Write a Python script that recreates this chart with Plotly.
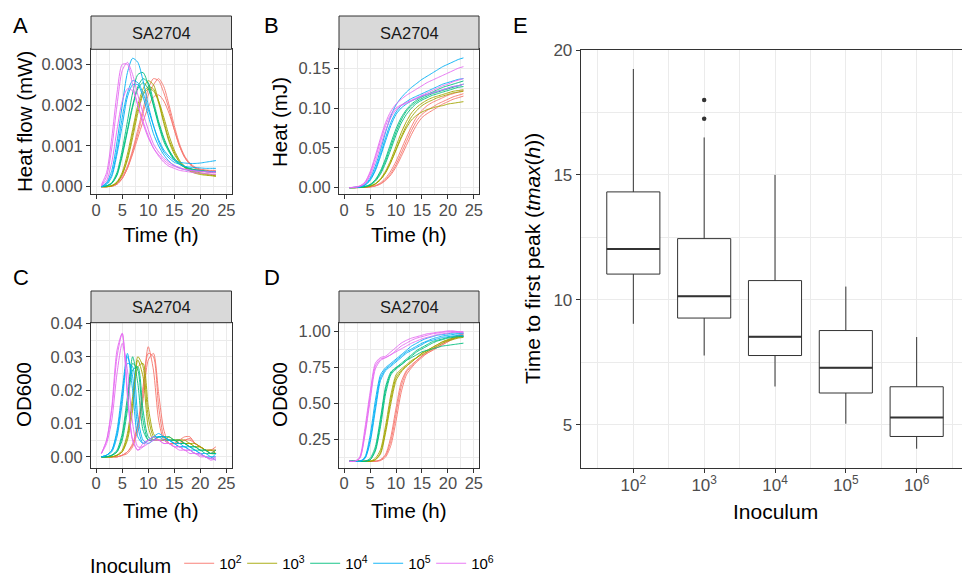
import plotly.graph_objects as go

W, H = 962, 576
FONT = "Liberation Sans, Arial, Helvetica, sans-serif"

GROUPS = ["10<sup>2</sup>", "10<sup>3</sup>", "10<sup>4</sup>", "10<sup>5</sup>", "10<sup>6</sup>"]
COLORS = ["#F8766D", "#A3A500", "#00BF7D", "#00B0F6", "#E76BF3"]
STRAIN = "SA2704"

time_h = list(range(1, 24))

# A - heat flow, in units of 0.001 mW (three replicates per inoculum)
heatflow_1e2 = [
    [0, 0, 0.02, 0.08, 0.25, 0.5, 0.9, 1.4, 1.9, 2.4, 2.65, 2.6, 2.3, 1.9, 1.4, 1.0, 0.72, 0.55, 0.46, 0.42, 0.4, 0.39, 0.38],
    [0, 0, 0.01, 0.06, 0.2, 0.45, 0.85, 1.3, 1.8, 2.25, 2.5, 2.65, 2.45, 2.0, 1.5, 1.05, 0.75, 0.58, 0.48, 0.43, 0.41, 0.4, 0.4],
    [0, 0, 0.01, 0.06, 0.2, 0.45, 0.8, 1.2, 1.6, 1.95, 2.2, 2.25, 2.1, 1.8, 1.4, 1.0, 0.72, 0.55, 0.45, 0.4, 0.37, 0.35, 0.34],
]
heatflow_1e3 = [
    [0, 0, 0.03, 0.12, 0.35, 0.8, 1.4, 2.0, 2.4, 2.6, 2.5, 2.1, 1.6, 1.15, 0.85, 0.62, 0.48, 0.4, 0.35, 0.32, 0.3, 0.28, 0.27],
    [0, 0, 0.02, 0.1, 0.3, 0.7, 1.3, 1.9, 2.3, 2.45, 2.4, 2.05, 1.55, 1.1, 0.8, 0.6, 0.46, 0.38, 0.33, 0.3, 0.28, 0.27, 0.25],
    [0, 0, 0.02, 0.1, 0.3, 0.65, 1.2, 1.8, 2.25, 2.4, 2.35, 2.1, 1.7, 1.25, 0.9, 0.65, 0.5, 0.42, 0.37, 0.34, 0.32, 0.3, 0.29],
]
heatflow_1e4 = [
    [0, 0.02, 0.1, 0.35, 0.9, 1.6, 2.3, 2.75, 2.8, 2.5, 2.0, 1.5, 1.1, 0.85, 0.65, 0.55, 0.48, 0.44, 0.41, 0.39, 0.38, 0.37, 0.36],
    [0, 0.02, 0.08, 0.3, 0.8, 1.4, 2.0, 2.45, 2.65, 2.55, 2.1, 1.6, 1.2, 0.9, 0.7, 0.58, 0.5, 0.45, 0.42, 0.4, 0.38, 0.37, 0.36],
    [0, 0.02, 0.08, 0.28, 0.75, 1.35, 1.95, 2.4, 2.55, 2.4, 2.0, 1.55, 1.15, 0.88, 0.68, 0.56, 0.48, 0.43, 0.4, 0.38, 0.37, 0.36, 0.35],
]
heatflow_1e5 = [
    [0, 0.1, 0.4, 1.1, 2.0, 2.8, 3.15, 3.05, 2.6, 2.0, 1.5, 1.1, 0.85, 0.7, 0.6, 0.55, 0.5, 0.48, 0.47, 0.46, 0.45, 0.45, 0.45],
    [0, 0.08, 0.3, 0.9, 1.7, 2.3, 2.6, 2.55, 2.3, 1.9, 1.5, 1.15, 0.9, 0.75, 0.65, 0.6, 0.58, 0.57, 0.57, 0.58, 0.6, 0.62, 0.64],
    [0, 0.05, 0.25, 0.8, 1.5, 2.2, 2.5, 2.5, 2.2, 1.75, 1.3, 1.0, 0.78, 0.62, 0.52, 0.46, 0.42, 0.4, 0.39, 0.38, 0.37, 0.37, 0.37],
]
heatflow_1e6 = [
    [0.05, 0.35, 1.2, 2.3, 3.0, 3.0, 2.5, 2.0, 1.55, 1.2, 0.95, 0.78, 0.65, 0.55, 0.5, 0.45, 0.42, 0.4, 0.38, 0.37, 0.36, 0.35, 0.35],
    [0.02, 0.25, 0.95, 2.0, 2.85, 3.05, 2.75, 2.25, 1.8, 1.4, 1.05, 0.85, 0.7, 0.6, 0.52, 0.47, 0.43, 0.41, 0.39, 0.38, 0.37, 0.36, 0.36],
    [0.02, 0.15, 0.6, 1.4, 2.1, 2.4, 2.35, 2.0, 1.6, 1.25, 0.95, 0.75, 0.6, 0.5, 0.45, 0.4, 0.38, 0.36, 0.34, 0.33, 0.32, 0.31, 0.3],
]

# B - cumulative heat (mJ)
heat_1e2 = [
    [0, 0, 0.0001, 0.0004, 0.001, 0.0025, 0.006, 0.012, 0.021, 0.033, 0.048, 0.063, 0.077, 0.089, 0.097, 0.103, 0.107, 0.11, 0.113, 0.116, 0.118, 0.12, 0.122],
    [0, 0, 0.0001, 0.0003, 0.0009, 0.0022, 0.005, 0.01, 0.018, 0.029, 0.043, 0.058, 0.072, 0.084, 0.092, 0.097, 0.101, 0.105, 0.108, 0.111, 0.114, 0.116, 0.118],
    [0, 0, 0.0001, 0.0003, 0.0008, 0.002, 0.0045, 0.009, 0.016, 0.026, 0.039, 0.053, 0.067, 0.079, 0.088, 0.093, 0.097, 0.101, 0.105, 0.108, 0.111, 0.113, 0.115],
]
heat_1e3 = [
    [0, 0, 0.0002, 0.0008, 0.002, 0.005, 0.011, 0.021, 0.035, 0.052, 0.069, 0.083, 0.094, 0.101, 0.106, 0.11, 0.113, 0.115, 0.117, 0.119, 0.121, 0.122, 0.123],
    [0, 0, 0.0002, 0.0007, 0.0018, 0.0045, 0.01, 0.019, 0.032, 0.048, 0.064, 0.078, 0.089, 0.097, 0.103, 0.107, 0.11, 0.113, 0.115, 0.117, 0.119, 0.12, 0.121],
    [0, 0, 0.0002, 0.0007, 0.0018, 0.0045, 0.01, 0.019, 0.032, 0.047, 0.062, 0.075, 0.085, 0.091, 0.095, 0.098, 0.1, 0.102, 0.103, 0.105, 0.106, 0.107, 0.108],
]
heat_1e4 = [
    [0, 0, 0.0005, 0.0015, 0.004, 0.01, 0.021, 0.037, 0.056, 0.074, 0.088, 0.098, 0.105, 0.11, 0.114, 0.117, 0.12, 0.123, 0.126, 0.128, 0.13, 0.132, 0.134],
    [0, 0, 0.0005, 0.0012, 0.0035, 0.009, 0.019, 0.034, 0.052, 0.07, 0.085, 0.096, 0.103, 0.108, 0.112, 0.115, 0.118, 0.12, 0.122, 0.124, 0.126, 0.128, 0.13],
    [0, 0, 0.0004, 0.001, 0.003, 0.008, 0.017, 0.031, 0.048, 0.066, 0.081, 0.092, 0.1, 0.106, 0.11, 0.113, 0.116, 0.118, 0.12, 0.122, 0.124, 0.126, 0.127],
]
heat_1e5 = [
    [0, 0.0003, 0.001, 0.004, 0.012, 0.027, 0.047, 0.07, 0.09, 0.104, 0.113, 0.12, 0.126, 0.131, 0.136, 0.14, 0.144, 0.148, 0.152, 0.155, 0.158, 0.161, 0.163],
    [0, 0.0003, 0.001, 0.003, 0.01, 0.023, 0.042, 0.063, 0.082, 0.095, 0.103, 0.108, 0.112, 0.115, 0.118, 0.121, 0.124, 0.127, 0.13, 0.132, 0.134, 0.136, 0.137],
    [0, 0.0003, 0.001, 0.003, 0.009, 0.021, 0.039, 0.059, 0.078, 0.092, 0.1, 0.105, 0.109, 0.112, 0.115, 0.117, 0.119, 0.121, 0.123, 0.125, 0.127, 0.128, 0.13],
]
heat_1e6 = [
    [0, 0.0005, 0.002, 0.007, 0.02, 0.04, 0.062, 0.082, 0.096, 0.105, 0.111, 0.116, 0.12, 0.124, 0.128, 0.132, 0.135, 0.138, 0.141, 0.144, 0.147, 0.15, 0.152],
    [0, 0.0005, 0.002, 0.006, 0.018, 0.037, 0.058, 0.078, 0.092, 0.1, 0.104, 0.107, 0.11, 0.113, 0.116, 0.119, 0.122, 0.125, 0.128, 0.13, 0.133, 0.135, 0.137],
    [0, 0.0004, 0.0015, 0.005, 0.015, 0.032, 0.052, 0.072, 0.088, 0.098, 0.103, 0.106, 0.109, 0.112, 0.115, 0.117, 0.119, 0.121, 0.123, 0.125, 0.127, 0.128, 0.13],
]

# C - OD600 growth rate
od_rate_1e2 = [
    [0, 0, 0, 0, 0.0005, 0.0015, 0.004, 0.01, 0.021, 0.033, 0.026, 0.011, 0.005, 0.004, 0.004, 0.005, 0.005, 0.0055, 0.004, 0.003, 0.002, 0.002, 0.002],
    [0, 0, 0, 0, 0.0005, 0.0015, 0.0035, 0.009, 0.019, 0.031, 0.03, 0.015, 0.006, 0.004, 0.004, 0.005, 0.006, 0.006, 0.004, 0.003, 0.002, 0.002, 0.003],
    [0, 0, 0, 0, 0.0004, 0.001, 0.003, 0.008, 0.017, 0.029, 0.031, 0.019, 0.008, 0.004, 0.004, 0.004, 0.005, 0.005, 0.004, 0.003, 0.002, 0.001, 0.002],
]
od_rate_1e3 = [
    [0, 0, 0, 0.0005, 0.002, 0.007, 0.018, 0.029, 0.024, 0.009, 0.005, 0.005, 0.005, 0.006, 0.005, 0.005, 0.005, 0.004, 0.004, 0.003, 0.002, 0.002, 0.001],
    [0, 0, 0, 0.0005, 0.0015, 0.006, 0.016, 0.03, 0.027, 0.012, 0.006, 0.005, 0.005, 0.005, 0.005, 0.005, 0.004, 0.004, 0.003, 0.003, 0.002, 0.002, 0.002],
    [0, 0, 0, 0.0004, 0.0015, 0.005, 0.014, 0.027, 0.028, 0.015, 0.007, 0.005, 0.005, 0.005, 0.005, 0.005, 0.004, 0.004, 0.003, 0.003, 0.002, 0.001, 0.001],
]
od_rate_1e4 = [
    [0, 0, 0.0005, 0.002, 0.007, 0.018, 0.03, 0.022, 0.008, 0.005, 0.005, 0.006, 0.006, 0.005, 0.005, 0.004, 0.004, 0.003, 0.003, 0.002, 0.002, 0.001, 0.001],
    [0, 0, 0.0005, 0.0015, 0.006, 0.016, 0.028, 0.026, 0.011, 0.005, 0.005, 0.006, 0.006, 0.006, 0.005, 0.005, 0.004, 0.003, 0.003, 0.002, 0.002, 0.001, 0.002],
    [0, 0, 0.0004, 0.0015, 0.005, 0.014, 0.026, 0.027, 0.014, 0.006, 0.005, 0.006, 0.006, 0.005, 0.005, 0.004, 0.004, 0.003, 0.002, 0.002, 0.001, 0.001, 0.001],
]
od_rate_1e5 = [
    [0, 0.0005, 0.002, 0.008, 0.02, 0.031, 0.02, 0.006, 0.004, 0.005, 0.006, 0.007, 0.006, 0.005, 0.004, 0.004, 0.003, 0.003, 0.002, 0.001, 0.001, 0, -0.001],
    [0, 0.0005, 0.002, 0.007, 0.018, 0.03, 0.024, 0.009, 0.004, 0.005, 0.006, 0.006, 0.006, 0.005, 0.004, 0.003, 0.003, 0.002, 0.002, 0.001, 0, 0, 0],
    [0, 0.0005, 0.0015, 0.006, 0.016, 0.028, 0.027, 0.012, 0.005, 0.004, 0.005, 0.006, 0.005, 0.005, 0.004, 0.003, 0.003, 0.002, 0.001, 0.001, 0, -0.0005, 0.001],
]
od_rate_1e6 = [
    [0.001, 0.005, 0.015, 0.032, 0.037, 0.018, 0.005, 0.002, 0.003, 0.005, 0.005, 0.005, 0.004, 0.004, 0.003, 0.003, 0.002, 0.002, 0.001, 0.001, 0, -0.0005, -0.001],
    [0.001, 0.005, 0.014, 0.03, 0.037, 0.02, 0.005, 0.002, 0.004, 0.005, 0.006, 0.005, 0.005, 0.004, 0.003, 0.003, 0.002, 0.002, 0.001, 0.0005, 0, -0.0005, 0],
    [0.001, 0.004, 0.011, 0.025, 0.034, 0.026, 0.01, 0.003, 0.003, 0.004, 0.005, 0.005, 0.004, 0.004, 0.003, 0.002, 0.002, 0.001, 0.001, 0, 0, -0.001, -0.0005],
]

# D - OD600
od_1e2 = [
    [0.1, 0.1, 0.1, 0.1, 0.1, 0.1, 0.11, 0.15, 0.27, 0.47, 0.65, 0.73, 0.77, 0.8, 0.83, 0.86, 0.88, 0.9, 0.92, 0.94, 0.96, 0.975, 0.985],
    [0.1, 0.1, 0.1, 0.1, 0.1, 0.1, 0.11, 0.14, 0.24, 0.43, 0.62, 0.72, 0.76, 0.8, 0.83, 0.85, 0.87, 0.89, 0.91, 0.93, 0.95, 0.97, 0.98],
    [0.1, 0.1, 0.1, 0.1, 0.1, 0.1, 0.105, 0.13, 0.21, 0.38, 0.58, 0.7, 0.75, 0.79, 0.82, 0.85, 0.87, 0.89, 0.91, 0.93, 0.95, 0.96, 0.97],
]
od_1e3 = [
    [0.1, 0.1, 0.1, 0.1, 0.1, 0.12, 0.18, 0.35, 0.56, 0.7, 0.74, 0.77, 0.8, 0.82, 0.85, 0.87, 0.89, 0.91, 0.93, 0.945, 0.955, 0.965, 0.97],
    [0.1, 0.1, 0.1, 0.1, 0.1, 0.11, 0.16, 0.32, 0.53, 0.68, 0.73, 0.76, 0.79, 0.82, 0.85, 0.87, 0.89, 0.91, 0.93, 0.94, 0.95, 0.96, 0.965],
    [0.1, 0.1, 0.1, 0.1, 0.1, 0.11, 0.15, 0.3, 0.5, 0.66, 0.72, 0.76, 0.79, 0.82, 0.84, 0.86, 0.88, 0.9, 0.92, 0.935, 0.945, 0.955, 0.96],
]
od_1e4 = [
    [0.1, 0.1, 0.1, 0.1, 0.12, 0.2, 0.4, 0.62, 0.72, 0.75, 0.77, 0.8, 0.82, 0.84, 0.86, 0.87, 0.88, 0.89, 0.9, 0.905, 0.91, 0.915, 0.92],
    [0.1, 0.1, 0.1, 0.1, 0.11, 0.18, 0.37, 0.6, 0.71, 0.75, 0.78, 0.81, 0.84, 0.87, 0.89, 0.91, 0.93, 0.94, 0.95, 0.96, 0.965, 0.97, 0.97],
    [0.1, 0.1, 0.1, 0.1, 0.11, 0.17, 0.34, 0.57, 0.7, 0.74, 0.77, 0.8, 0.83, 0.86, 0.88, 0.9, 0.92, 0.935, 0.945, 0.955, 0.96, 0.965, 0.965],
]
od_1e5 = [
    [0.1, 0.1, 0.1, 0.13, 0.28, 0.52, 0.7, 0.75, 0.78, 0.81, 0.84, 0.87, 0.9, 0.92, 0.94, 0.955, 0.965, 0.975, 0.98, 0.985, 0.99, 0.99, 0.99],
    [0.1, 0.1, 0.1, 0.12, 0.25, 0.48, 0.68, 0.74, 0.77, 0.8, 0.83, 0.86, 0.88, 0.9, 0.92, 0.935, 0.95, 0.96, 0.97, 0.975, 0.98, 0.985, 0.985],
    [0.1, 0.1, 0.1, 0.12, 0.23, 0.45, 0.66, 0.73, 0.76, 0.79, 0.82, 0.85, 0.87, 0.89, 0.91, 0.93, 0.94, 0.95, 0.96, 0.965, 0.97, 0.975, 0.97],
]
od_1e6 = [
    [0.1, 0.1, 0.13, 0.33, 0.58, 0.78, 0.82, 0.83, 0.86, 0.89, 0.92, 0.94, 0.955, 0.965, 0.975, 0.985, 0.99, 0.995, 1.0, 1.005, 1.005, 1.0, 1.0],
    [0.1, 0.1, 0.12, 0.3, 0.55, 0.76, 0.81, 0.82, 0.84, 0.87, 0.9, 0.92, 0.94, 0.955, 0.965, 0.975, 0.985, 0.99, 0.995, 1.0, 1.0, 1.0, 0.995],
    [0.1, 0.1, 0.12, 0.28, 0.52, 0.74, 0.8, 0.82, 0.84, 0.86, 0.88, 0.9, 0.92, 0.935, 0.95, 0.96, 0.97, 0.98, 0.985, 0.99, 0.995, 0.995, 0.99],
]

# E - time to first peak, box summaries per inoculum (log10 inoculum on x)
box_log_inoc = [2, 3, 4, 5, 6]
box_lower = [9.04, 7.77, 6.53, 5.04, 4.04]
box_q1 = [11.03, 9.27, 7.77, 6.27, 4.53]
box_median = [12.03, 10.14, 8.52, 7.28, 5.29]
box_q3 = [14.32, 12.45, 10.77, 8.77, 6.52]
box_upper = [19.24, 16.5, 15.0, 10.53, 8.51]
outlier_log_inoc = [3, 3]
outlier_tmax = [17.25, 18.0]


def px_x(p):
    return p / W


def px_y(p):
    return 1 - p / H


def axis(dom, rng, minor_step, minor_start, **kw):
    a = dict(domain=dom, range=rng, showline=True, linecolor="#333333", linewidth=1,
             mirror=True, ticks="outside", ticklen=4, tickwidth=1, tickcolor="#333333",
             tickfont=dict(size=16.5, color="#4D4D4D"), showgrid=True,
             gridcolor="#EBEBEB", gridwidth=1.2, zeroline=False, fixedrange=True,
             automargin=False,
             minor=dict(showgrid=True, gridcolor="#EBEBEB", gridwidth=0.6, ticks="",
                        tick0=minor_start, dtick=minor_step))
    a.update(kw)
    return a


fig = go.Figure()

# panel geometry in pixels: (left, right, top, bottom)
panels = [
    ("x", "y", [heatflow_1e2, heatflow_1e3, heatflow_1e4, heatflow_1e5, heatflow_1e6], 0.001, (91, 231.5, 49.3, 194.3)),
    ("x2", "y2", [heat_1e2, heat_1e3, heat_1e4, heat_1e5, heat_1e6], 1, (339, 479, 49.3, 194.3)),
    ("x3", "y3", [od_rate_1e2, od_rate_1e3, od_rate_1e4, od_rate_1e5, od_rate_1e6], 1, (91, 231.5, 322.7, 467.5)),
    ("x4", "y4", [od_1e2, od_1e3, od_1e4, od_1e5, od_1e6], 1, (339, 479, 322.7, 467.5)),
]

for p, (xa, ya, series, scale, _) in enumerate(panels):
    for g, reps in enumerate(series):
        for r, vals in enumerate(reps):
            fig.add_trace(go.Scatter(
                x=time_h, y=[v * scale for v in vals], mode="lines",
                line=dict(color=COLORS[g], width=1, shape="spline", smoothing=0.7),
                opacity=0.9, name=GROUPS[g], legendgroup=GROUPS[g],
                showlegend=(p == 0 and r == 0), hoverinfo="skip",
                xaxis=xa, yaxis=ya))

# E boxes
fig.add_trace(go.Box(
    x=box_log_inoc, q1=box_q1, median=box_median, q3=box_q3,
    lowerfence=box_lower, upperfence=box_upper, width=0.75, whiskerwidth=0,
    fillcolor="white", line=dict(color="#333333", width=1), boxpoints=False,
    showlegend=False, xaxis="x5", yaxis="y5"))
med_x, med_y = [], []
for xp, m in zip(box_log_inoc, box_median):
    med_x += [xp - 0.375, xp + 0.375, None]
    med_y += [m, m, None]
fig.add_trace(go.Scatter(x=med_x, y=med_y, mode="lines", line=dict(color="#333333", width=2),
                         showlegend=False, hoverinfo="skip", xaxis="x5", yaxis="y5"))
fig.add_trace(go.Scatter(x=outlier_log_inoc, y=outlier_tmax, mode="markers",
                         marker=dict(color="#333333", size=4.5), showlegend=False,
                         hoverinfo="skip", xaxis="x5", yaxis="y5"))

t_range = [-1.0, 26.0]
layout_axes = {}
y_specs = [
    dict(range=[-0.000187, 0.00337], dtick=0.001, tickformat=".3f"),
    dict(range=[-0.0084, 0.1738], dtick=0.05, tickformat=".2f"),
    dict(range=[-0.0032, 0.0402], dtick=0.01, tickformat=".2f"),
    dict(range=[0.057, 1.062], dtick=0.25, tickformat=".2f"),
]
for i, (xa, ya, _, _, (l, r, t, b)) in enumerate(panels):
    n = "" if i == 0 else str(i + 1)
    layout_axes["xaxis" + n] = axis([px_x(l), px_x(r)], t_range, 2.5, 2.5, dtick=5, tick0=0,
                                    ticklabelstandoff=-3, anchor=ya)
    ys = y_specs[i]
    layout_axes["yaxis" + n] = axis([px_y(b), px_y(t)], ys["range"], ys["dtick"] / 2, ys["dtick"] / 2,
                                    dtick=ys["dtick"], tick0=0, tickformat=ys["tickformat"],
                                    anchor=xa)

layout_axes["xaxis5"] = axis([px_x(580.7), 1.0], [1.257, 6.64], 1, 1.5,
                             tickmode="array", tickvals=box_log_inoc, ticktext=GROUPS,
                             ticklabelstandoff=-2,
                             tickfont=dict(size=17, color="#4D4D4D"), anchor="y5")
layout_axes["yaxis5"] = axis([px_y(467.7), px_y(50)], [3.28, 20.0], 2.5, 2.5,
                             dtick=5, tick0=0, mirror=False,
                             tickfont=dict(size=17, color="#4D4D4D"), anchor="x5")

shapes = []
annotations = []
for (xa, ya, _, _, (l, r, t, b)) in panels:
    st = t - 33.3 if t < 100 else t - 31.7
    shapes.append(dict(type="rect", xref="paper", yref="paper", x0=px_x(l), x1=px_x(r),
                       y0=px_y(t), y1=px_y(st), fillcolor="#D9D9D9",
                       line=dict(color="#333333", width=1), layer="above"))
    annotations.append(dict(text=STRAIN, x=px_x((l + r) / 2), y=px_y((t + st) / 2),
                            xref="paper", yref="paper", showarrow=False,
                            xanchor="center", yanchor="middle",
                            font=dict(size=16.5, color="#1A1A1A")))


def label(text, x, y, size, angle=0, xanchor="center", color="black"):
    annotations.append(dict(text=text, x=px_x(x), y=px_y(y), xref="paper", yref="paper",
                            showarrow=False, textangle=angle, xanchor=xanchor,
                            yanchor="middle", font=dict(size=size, color=color)))


for letter, lx, ly in [("A", 11, 25), ("B", 262, 25), ("C", 11, 277), ("D", 262, 277), ("E", 511, 25)]:
    label(letter, lx, ly, 22, xanchor="left")

label("Heat flow (mW)", 24, 122, 20.5, angle=-90)
label("Heat (mJ)", 279, 122, 20.5, angle=-90)
label("OD600", 23, 395, 20.5, angle=-90)
label("OD600", 279, 395, 20.5, angle=-90)
for cx, cy in [(161, 234), (409, 234), (161, 510), (409, 510)]:
    label("Time (h)", cx, cy, 20.5)
label("Time to first peak (<i>tmax</i>(<i>h</i>))", 532, 259, 21, angle=-90)
label("Inoculum", 775, 511, 21)

fig.update_layout(
    width=W, height=H, autosize=False,
    margin=dict(l=0, r=0, t=0, b=0, autoexpand=False),
    paper_bgcolor="white", plot_bgcolor="white",
    font=dict(family=FONT, color="black"),
    shapes=shapes, annotations=annotations,
    legend=dict(orientation="h", x=px_x(88), y=px_y(565), xanchor="left", yanchor="middle",
                title=dict(text="Inoculum", font=dict(size=20, color="black"), side="left"),
                font=dict(size=15, color="black"), itemwidth=30, entrywidth=18,
                bgcolor="rgba(0,0,0,0)"),
    **layout_axes,
)

fig.write_html("out.html", config={"displayModeBar": False},
               post_script="document.body.style.margin='0';")
